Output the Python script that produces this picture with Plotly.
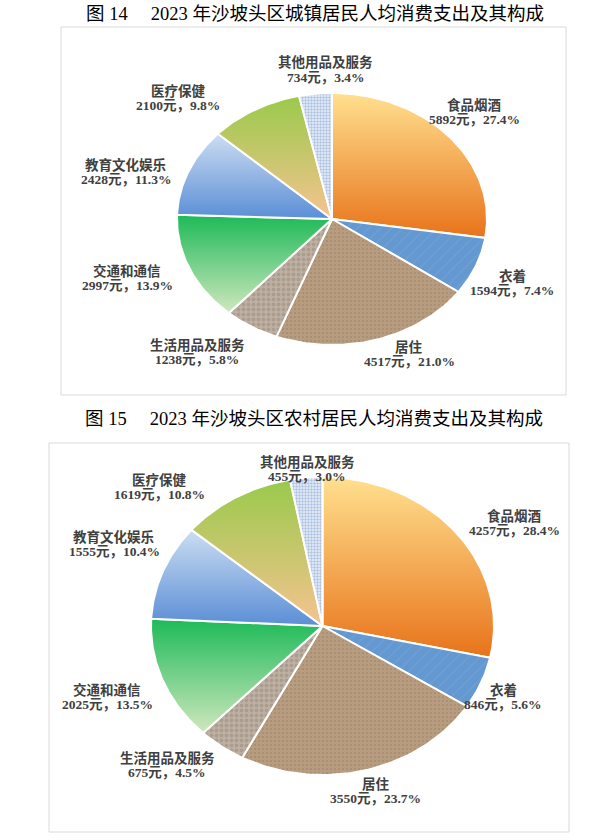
import numpy as np
import plotly.graph_objects as go

W, H = 615, 840

categories = ["食品烟酒", "衣着", "居住", "生活用品及服务",
              "交通和通信", "教育文化娱乐", "医疗保健", "其他用品及服务"]
urban_values = [5892, 1594, 4517, 1238, 2997, 2428, 2100, 734]
rural_values = [4257, 846, 3550, 675, 2025, 1555, 1619, 455]
urban_title = "图 14\u3000 2023 年沙坡头区城镇居民人均消费支出及其构成"
rural_title = "图 15\u3000 2023 年沙坡头区农村居民人均消费支出及其构成"

# fills for each slice, same order as categories
slice_fills = [
    dict(gradient=("#E8731A", "#FFE08F")),
    dict(pattern=dict(shape="/", bgcolor="#6498D1", fgcolor="#77A8DC", size=8, solidity=0.15)),
    dict(pattern=dict(shape=".", bgcolor="#B79C7F", fgcolor="#6F5B47", size=4, solidity=0.12)),
    dict(pattern=dict(shape=".", bgcolor="#BEB1A4", fgcolor="#978878", size=5, solidity=0.45)),
    dict(gradient=("#D0E7BE", "#1DBA58")),
    dict(gradient=("#5A8ED6", "#CCDDF2")),
    dict(gradient=("#F6C390", "#99CA4B")),
    dict(pattern=dict(shape=".", bgcolor="#EAF0F8", fgcolor="#7094C9", size=3, solidity=0.5)),
]

# pixel layout of each panel: box, pie centre and radii, title, label anchors
urban_panel = dict(
    box=(61, 27, 566, 395), center=(332, 219), radii=(155, 126),
    title_xy=(315, 14),
    labels=[(474, 105), (512, 276), (409, 347), (197, 345),
            (127, 271), (126, 165), (178, 91), (326, 63)],
)
rural_panel = dict(
    box=(49, 443, 569, 832), center=(322.5, 626), radii=(171.5, 149),
    title_xy=(314, 419),
    labels=[(514, 516), (503, 690), (376, 784), (167, 758),
            (107, 690), (114, 537), (159, 480), (307, 462)],
)

label_font = dict(family="Liberation Serif, Noto Sans CJK SC", size=13.5,
                  color="#404040", weight="bold")
title_font = dict(family="Liberation Serif, Noto Sans CJK SC", size=18.5, color="#000000")


def px(x, y):
    return x / W, 1 - y / H


fig = go.Figure()


def add_panel(values, title, panel, xa, ya):
    total = sum(values)
    bl, bt, br, bb = panel["box"]
    cx, cy = panel["center"]
    rx, ry = panel["radii"]

    cum = 0
    for v, fill in zip(values, slice_fills):
        a0 = np.pi / 2 - 2 * np.pi * cum / total
        a1 = np.pi / 2 - 2 * np.pi * (cum + v) / total
        cum += v
        n = max(3, int(abs(a1 - a0) / (2 * np.pi) * 360))
        t = np.linspace(a0, a1, n)
        xs = np.concatenate([[0], np.cos(t), [0]])
        ys = np.concatenate([[0], np.sin(t), [0]])
        tr = dict(x=xs, y=ys, mode="lines", fill="toself",
                  line=dict(color="white", width=2),
                  hoverinfo="skip", showlegend=False,
                  xaxis=xa, yaxis=ya)
        if "gradient" in fill:
            lo, hi = fill["gradient"]
            tr["fillcolor"] = hi
            tr["fillgradient"] = dict(type="vertical", colorscale=[[0, lo], [1, hi]])
        else:
            tr["fillcolor"] = fill["pattern"]["bgcolor"]
            tr["fillpattern"] = fill["pattern"]
        fig.add_trace(go.Scatter(**tr))

    ax = "xaxis" if xa == "x" else "xaxis" + xa[1:]
    ay = "yaxis" if ya == "y" else "yaxis" + ya[1:]
    fig.layout[ax] = dict(domain=[bl / W, br / W],
                          range=[(bl - cx) / rx, (br - cx) / rx],
                          visible=False, fixedrange=True)
    fig.layout[ay] = dict(domain=[1 - bb / H, 1 - bt / H],
                          range=[(cy - bb) / ry, (cy - bt) / ry],
                          visible=False, fixedrange=True)

    x0, y1 = px(bl, bt)
    x1, y0 = px(br, bb)
    fig.add_shape(type="rect", xref="paper", yref="paper", x0=x0, y0=y0, x1=x1, y1=y1,
                  line=dict(color="#D9D9D9", width=1), layer="below")

    tx, ty = px(*panel["title_xy"])
    fig.add_annotation(x=tx, y=ty, xref="paper", yref="paper", text=title,
                       showarrow=False, font=title_font, xanchor="center", yanchor="middle")

    for name, v, (lx, ly) in zip(categories, values, panel["labels"]):
        lines = [name, f"{v}元，{v / total * 100:.1f}%"]
        for i, s in enumerate(lines):
            ax_, ay_ = px(lx, ly + 14.5 * i)
            fig.add_annotation(x=ax_, y=ay_, xref="paper", yref="paper", text=s,
                               showarrow=False, font=label_font,
                               xanchor="center", yanchor="middle")


add_panel(urban_values, urban_title, urban_panel, "x", "y")
add_panel(rural_values, rural_title, rural_panel, "x2", "y2")

fig.update_layout(width=W, height=H, margin=dict(l=0, r=0, t=0, b=0),
                  paper_bgcolor="white", plot_bgcolor="rgba(0,0,0,0)")

fig.write_html("out.html", config={"displayModeBar": False},
               post_script="document.body.style.margin='0';")
